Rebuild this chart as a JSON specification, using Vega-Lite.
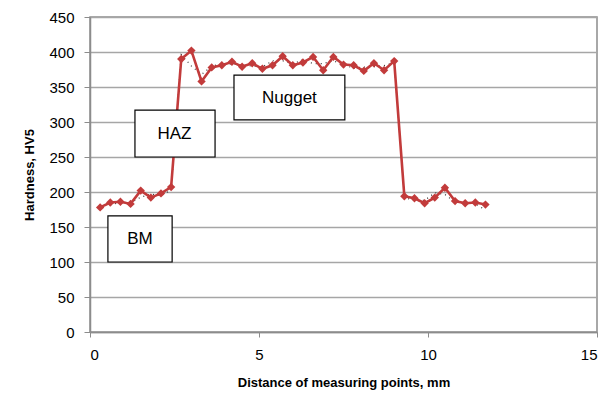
{
  "$schema": "https://vega.github.io/schema/vega-lite/v6.json",
  "width": 507,
  "height": 315,
  "autosize": "none",
  "padding": {"left": 90, "top": 17, "right": 19, "bottom": 64},
  "background": "white",
  "config": {
    "font": "Liberation Sans",
    "view": {"stroke": "#8c8c8c", "strokeWidth": 1.5}
  },
  "datasets": {
    "hardness": [
      {"d": 0.3, "hv": 178}, {"d": 0.6, "hv": 185}, {"d": 0.9, "hv": 186}, {"d": 1.2, "hv": 183},
      {"d": 1.5, "hv": 202}, {"d": 1.8, "hv": 192}, {"d": 2.1, "hv": 198}, {"d": 2.4, "hv": 207},
      {"d": 2.7, "hv": 390}, {"d": 3.0, "hv": 402}, {"d": 3.3, "hv": 358}, {"d": 3.6, "hv": 378},
      {"d": 3.9, "hv": 381}, {"d": 4.2, "hv": 386}, {"d": 4.5, "hv": 379}, {"d": 4.8, "hv": 384},
      {"d": 5.1, "hv": 376}, {"d": 5.4, "hv": 381}, {"d": 5.7, "hv": 394}, {"d": 6.0, "hv": 381},
      {"d": 6.3, "hv": 385}, {"d": 6.6, "hv": 393}, {"d": 6.9, "hv": 374}, {"d": 7.2, "hv": 393},
      {"d": 7.5, "hv": 382}, {"d": 7.8, "hv": 381}, {"d": 8.1, "hv": 373}, {"d": 8.4, "hv": 384},
      {"d": 8.7, "hv": 374}, {"d": 9.0, "hv": 387}, {"d": 9.3, "hv": 194}, {"d": 9.6, "hv": 191},
      {"d": 9.9, "hv": 184}, {"d": 10.2, "hv": 192}, {"d": 10.5, "hv": 206}, {"d": 10.8, "hv": 187},
      {"d": 11.1, "hv": 184}, {"d": 11.4, "hv": 185}, {"d": 11.7, "hv": 182}
    ],
    "trend": [
      {"d": 0.6, "hv": 181.5}, {"d": 0.9, "hv": 185.5}, {"d": 1.2, "hv": 184.5}, {"d": 1.5, "hv": 192.5},
      {"d": 1.8, "hv": 197}, {"d": 2.1, "hv": 195}, {"d": 2.4, "hv": 202.5}, {"d": 2.55, "hv": 298.5},
      {"d": 2.7, "hv": 396}, {"d": 3.0, "hv": 380}, {"d": 3.3, "hv": 368}, {"d": 3.6, "hv": 379.5},
      {"d": 3.9, "hv": 383.5}, {"d": 4.2, "hv": 382.5}, {"d": 4.5, "hv": 381.5}, {"d": 4.8, "hv": 380},
      {"d": 5.1, "hv": 378.5}, {"d": 5.4, "hv": 387.5}, {"d": 5.7, "hv": 387.5}, {"d": 6.0, "hv": 383},
      {"d": 6.3, "hv": 389}, {"d": 6.6, "hv": 383.5}, {"d": 6.9, "hv": 383.5}, {"d": 7.2, "hv": 387.5},
      {"d": 7.5, "hv": 381.5}, {"d": 7.8, "hv": 377}, {"d": 8.1, "hv": 378.5}, {"d": 8.4, "hv": 379},
      {"d": 8.7, "hv": 380.5}, {"d": 9.0, "hv": 385}, {"d": 9.15, "hv": 290.5}, {"d": 9.3, "hv": 192.5},
      {"d": 9.6, "hv": 187.5}, {"d": 9.9, "hv": 188}, {"d": 10.2, "hv": 199}, {"d": 10.5, "hv": 196.5},
      {"d": 10.8, "hv": 185.5}, {"d": 11.1, "hv": 184.5}, {"d": 11.4, "hv": 183.5}, {"d": 11.7, "hv": 174}
    ],
    "labels": [
      {"label": "BM", "x1": 0.53, "x2": 2.43, "y1": 100, "y2": 166, "xc": 1.48, "yc": 133},
      {"label": "HAZ", "x1": 1.33, "x2": 3.7, "y1": 250, "y2": 317, "xc": 2.5, "yc": 283},
      {"label": "Nugget", "x1": 4.26, "x2": 7.54, "y1": 303, "y2": 367, "xc": 5.9, "yc": 335}
    ]
  },
  "encoding": {
    "x": {
      "field": "d", "type": "quantitative",
      "scale": {"domain": [0, 15], "nice": false},
      "axis": {
        "title": "Distance of measuring points, mm", "values": [0, 5, 10, 15],
        "grid": false, "labelFontSize": 15, "labelColor": "#000", "labelPadding": 10,
        "titleFontSize": 13, "titleFontWeight": "bold", "titleColor": "#000", "titlePadding": 14,
        "domainColor": "#8c8c8c", "domainWidth": 1.5, "tickColor": "#8c8c8c", "tickSize": 5
      }
    },
    "y": {
      "field": "hv", "type": "quantitative",
      "scale": {"domain": [0, 450], "nice": false},
      "axis": {
        "title": "Hardness, HV5", "values": [0, 50, 100, 150, 200, 250, 300, 350, 400, 450],
        "gridColor": "#a6a6a6", "gridWidth": 1.5, "labelFontSize": 15, "labelColor": "#000",
        "labelPadding": 10, "titleFontSize": 13, "titleFontWeight": "bold", "titleColor": "#000",
        "titlePadding": 12, "domainColor": "#8c8c8c", "domainWidth": 1.5, "tickColor": "#8c8c8c", "tickSize": 6
      }
    }
  },
  "layer": [
    {
      "data": {"name": "trend"},
      "mark": {"type": "line", "color": "#333", "strokeWidth": 1.2, "strokeDash": [1, 4]}
    },
    {
      "data": {"name": "hardness"},
      "mark": {"type": "line", "color": "#c23b3b", "strokeWidth": 2.6}
    },
    {
      "data": {"name": "hardness"},
      "mark": {"type": "point", "shape": "diamond", "filled": true, "color": "#c23b3b", "size": 70, "opacity": 1}
    },
    {
      "data": {"name": "labels"},
      "mark": {"type": "rect", "fill": "white", "stroke": "#000", "strokeWidth": 1.2},
      "encoding": {
        "x": {"field": "x1", "type": "quantitative"},
        "x2": {"field": "x2"},
        "y": {"field": "y1", "type": "quantitative"},
        "y2": {"field": "y2"}
      }
    },
    {
      "data": {"name": "labels"},
      "mark": {"type": "text", "fontSize": 17, "color": "#000", "font": "Liberation Sans"},
      "encoding": {
        "x": {"field": "xc", "type": "quantitative"},
        "y": {"field": "yc", "type": "quantitative"},
        "text": {"field": "label"}
      }
    }
  ]
}
